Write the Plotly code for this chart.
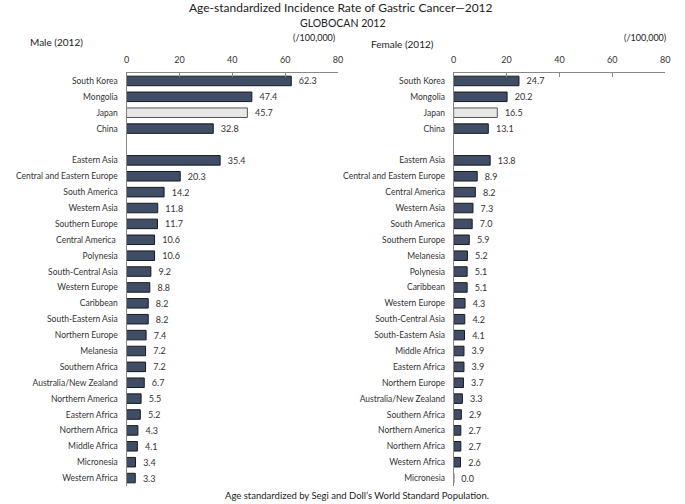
import plotly.graph_objects as go

male_regions = ["South Korea", "Mongolia", "Japan", "China",
                "Eastern Asia", "Central and Eastern Europe", "South America", "Western Asia",
                "Southern Europe", "Central America ", "Polynesia", "South-Central Asia",
                "Western Europe", "Caribbean", "South-Eastern Asia", "Northern Europe",
                "Melanesia", "Southern Africa", "Australia/New Zealand", "Northern America",
                "Eastern Africa", "Northern Africa", "Middle Africa", "Micronesia", "Western Africa"]
male_values = [62.3, 47.4, 45.7, 32.8,
               35.4, 20.3, 14.2, 11.8, 11.7, 10.6, 10.6, 9.2, 8.8, 8.2, 8.2, 7.4,
               7.2, 7.2, 6.7, 5.5, 5.2, 4.3, 4.1, 3.4, 3.3]

female_regions = ["South Korea", "Mongolia", "Japan", "China",
                  "Eastern Asia", "Central and Eastern Europe", "Central America", "Western Asia",
                  "South America", "Southern Europe", "Melanesia", "Polynesia",
                  "Caribbean", "Western Europe", "South-Central Asia", "South-Eastern Asia",
                  "Middle Africa", "Eastern Africa", "Northern Europe", "Australia/New Zealand",
                  "Southern Africa", "Northern America", "Northern Africa", "Western Africa", "Micronesia"]
female_values = [24.7, 20.2, 16.5, 13.1,
                 13.8, 8.9, 8.2, 7.3, 7.0, 5.9, 5.2, 5.1, 5.1, 4.3, 4.2, 4.1,
                 3.9, 3.9, 3.7, 3.3, 2.9, 2.7, 2.7, 2.6, 0.0]

n_countries = 4
x_ticks = [0, 20, 40, 60, 80]
highlight = "Japan"

DARK = "#3f4d66"
LIGHT = "#e8e8e8"
FONT = "Lato"
W, H = 685, 504


def order(regions):
    return regions[:n_countries] + ["\u2009"] + regions[n_countries:]


def bar(regions, values, xa, ya):
    colors = [LIGHT if r == highlight else DARK for r in regions]
    lines = ["#555555" if r == highlight else "#1a1a1a" for r in regions]
    return go.Bar(
        y=regions, x=values, orientation="h", xaxis=xa, yaxis=ya,
        marker=dict(color=colors, line=dict(color=lines, width=1)),
        texttemplate="\u00a0\u00a0%{x:.1f}", textposition="outside",
        constraintext="none", cliponaxis=False,
        textfont=dict(family=FONT, size=9, color="#333333"),
        hoverinfo="skip", showlegend=False,
    )


fig = go.Figure()
fig.add_trace(bar(male_regions, male_values, "x", "y"))
fig.add_trace(bar(female_regions, female_values, "x2", "y2"))

xcommon = dict(range=[0, 80], tickvals=x_ticks, side="top", showline=True,
               linecolor="#888888", linewidth=1, ticks="inside", ticklen=4,
               tickcolor="#888888", showgrid=False, zeroline=False,
               tickfont=dict(family=FONT, size=9, color="#333333"),
               ticklabelstandoff=5, fixedrange=True)
ycommon = dict(type="category", range=[25.5, -0.5], showline=True,
               linecolor="#888888", linewidth=1, ticks="", showgrid=False,
               tickfont=dict(family=FONT, size=8.5, color="#333333"),
               ticklabelstandoff=6, fixedrange=True)

y_top = 1 - 73 / H
y_bot = 1 - 486 / H


def ann(text, px, py, size, xanchor="center"):
    return dict(text=text, x=px / W, y=1 - py / H, xref="paper", yref="paper",
                xanchor=xanchor, yanchor="middle", showarrow=False,
                font=dict(family=FONT, size=size, color="#222222"))


fig.update_layout(
    width=W, height=H,
    margin=dict(l=0, r=0, t=0, b=0),
    paper_bgcolor="white", plot_bgcolor="white",
    bargap=0.4,
    font=dict(family=FONT, color="#222222"),
    xaxis=dict(xcommon, domain=[125 / W, 339 / W], anchor="y"),
    yaxis=dict(ycommon, domain=[y_bot, y_top], anchor="x",
               categoryorder="array", categoryarray=order(male_regions)),
    xaxis2=dict(xcommon, domain=[456 / W, 670 / W], anchor="y2"),
    yaxis2=dict(ycommon, domain=[y_bot, y_top], anchor="x2",
                categoryorder="array", categoryarray=order(female_regions)),
    annotations=[
        ann("Age-standardized Incidence Rate of Gastric Cancer\u20142012", 342, 8, 12),
        ann("GLOBOCAN 2012", 344, 23, 10.5),
        ann("Male (2012)", 25, 42, 10, "left"),
        ann("(/100,000)", 338, 38, 9, "right"),
        ann("Female (2012)", 370, 44, 10, "left"),
        ann("(/100,000)", 673, 38, 9, "right"),
        ann("Age standardized by Segi and Doll\u2019s World Standard Population.", 358, 495, 9.5),
    ],
)

fig.write_html("out.html", config={"displayModeBar": False},
               post_script="document.body.style.margin='0';")
